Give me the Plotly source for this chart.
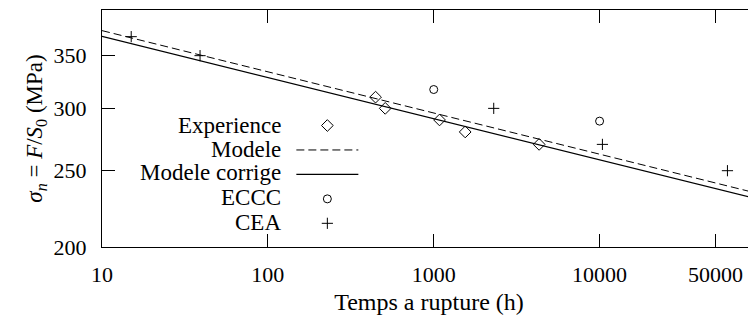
import plotly.graph_objects as go

# ---- data ----
exp_x = [446, 510, 1084, 1548, 4320]
exp_y = [310, 300, 290, 280, 270]

model_x = [10, 100000]
model_y = [376.6, 232.6]
corr_y = [370.3, 228.9]

eccc_x = [1000, 10000]
eccc_y = [317, 289]

cea_x = [15, 39, 2300, 10400, 59000]
cea_y = [370, 350, 300, 270, 250]

x_ticks = [10, 100, 1000, 10000, 50000]
x_ticktext = ["10", "100", "1000", "10000", "50000"]
y_ticks = [200, 250, 300, 350]
y_ticktext = ["200", "250", "300", "350"]

legend_names = ["Experience", "Modele", "Modele corrige", "ECCC", "CEA"]

FONT = "Liberation Serif, DejaVu Serif, serif"
FS_TICK = 22
FS_TEXT = 23
FS_XTITLE = 24
BLANK = "\u00a0"

# window-pixel helpers (page body has an 8px margin)
PL, PR, PT, PB = 101.5, 756.0, 9.5, 247.0


def px(xw):
    return (xw - PL) / (PR - PL)


def py(yw):
    return 1 - (yw - PT) / (PB - PT)


fig = go.Figure()
fig.add_trace(go.Scatter(x=exp_x, y=exp_y, mode="markers", name=BLANK,
                         marker=dict(symbol="diamond-open", size=9, color="black",
                                     line=dict(width=1, color="black"))))
fig.add_trace(go.Scatter(x=model_x, y=model_y, mode="lines", name=BLANK,
                         line=dict(color="black", width=1, dash="8px,4px")))
fig.add_trace(go.Scatter(x=model_x, y=corr_y, mode="lines", name=BLANK,
                         line=dict(color="black", width=1.2)))
fig.add_trace(go.Scatter(x=eccc_x, y=eccc_y, mode="markers", name=BLANK,
                         marker=dict(symbol="circle-open", size=8, color="black",
                                     line=dict(width=1, color="black"))))
fig.add_trace(go.Scatter(x=cea_x, y=cea_y, mode="markers", name=BLANK,
                         marker=dict(symbol="cross-thin", size=8, color="black",
                                     line=dict(width=1, color="black"))))

row_y = [125, 149, 172, 197.5, 222.5]
for name, yy in zip(legend_names, row_y):
    fig.add_annotation(text=name, xref="paper", yref="paper",
                       x=px(283), y=py(yy),
                       xanchor="right", yanchor="middle", showarrow=False,
                       font=dict(family=FONT, size=FS_TEXT, color="black"))

fig.update_layout(
    template="none",
    width=748, height=315,
    margin=dict(l=PL - 8, r=0, t=PT - 8, b=315 - (PB - 8), pad=0),
    paper_bgcolor="white", plot_bgcolor="white",
    font=dict(family=FONT, size=FS_TICK, color="black"),
    showlegend=True,
    legend=dict(x=px(291), y=py(108), xanchor="left", yanchor="top",
                bgcolor="rgba(0,0,0,0)", borderwidth=0, itemwidth=62,
                tracegroupgap=0, font=dict(family=FONT, size=16.5)),
    xaxis=dict(type="log", range=[1, 4.943], tickvals=x_ticks, ticktext=x_ticktext,
               automargin=False, tickfont=dict(family=FONT, size=FS_TICK),
               ticks="inside", ticklen=13, tickwidth=1, tickcolor="black",
               showline=True, linecolor="black", linewidth=1, mirror="ticks",
               showgrid=False, zeroline=False, ticklabelstandoff=8,
               title=dict(text="Temps a rupture (h)", standoff=6,
                          font=dict(family=FONT, size=FS_XTITLE))),
    yaxis=dict(type="log", range=[2.30103, 2.60206], tickvals=y_ticks, ticktext=y_ticktext,
               automargin=False, tickfont=dict(family=FONT, size=FS_TICK),
               ticks="inside", ticklen=13, tickwidth=1, tickcolor="black",
               showline=True, linecolor="black", linewidth=1, mirror=False,
               showgrid=False, zeroline=False, ticklabelstandoff=10,
               title=dict(text="<i>σ</i><sub><i>n</i></sub> = <i>F</i>/<i>S</i><sub>0</sub> (MPa)",
                          standoff=4, font=dict(family=FONT, size=FS_TEXT))),
)

fig.write_html("out.html")
